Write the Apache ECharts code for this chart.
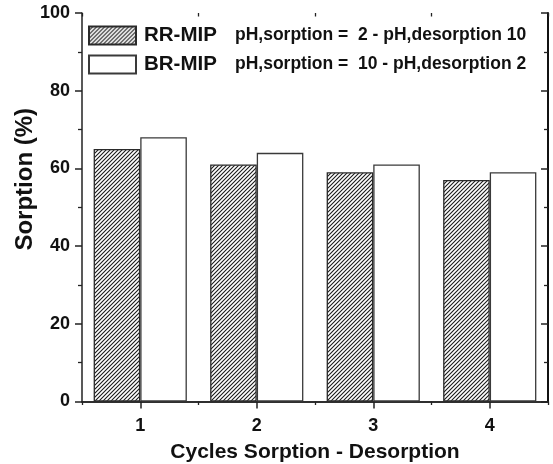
<!DOCTYPE html>
<html>
<head>
<meta charset="utf-8">
<script src="https://cdn.jsdelivr.net/npm/echarts@6/dist/echarts.min.js"></script>
<style>
  html, body { margin: 0; padding: 0; background: #fff; }
  #chart { width: 553px; height: 464px; }
</style>
</head>
<body>
<div id="chart"></div>
<script>
// Sorption over repeated sorption/desorption cycles
const cycles = ['1', '2', '3', '4'];
const rrMip = [65, 61, 59, 57];
const brMip = [68, 64, 61, 59];
const seriesNames = ['RR-MIP', 'BR-MIP'];
const conditions = ['pH,sorption =  2 - pH,desorption 10', 'pH,sorption =  10 - pH,desorption 2'];
const yMin = 0, yMax = 100, yStep = 20;

const FONT = '"Liberation Sans", Arial, Helvetica, sans-serif';
const INK = '#111';

// diagonal hatch fill for the RR-MIP bars
function hatchPattern() {
  const s = 4;
  const c = document.createElement('canvas');
  c.width = s; c.height = s;
  const g = c.getContext('2d');
  g.fillStyle = '#fff';
  g.fillRect(0, 0, s, s);
  g.strokeStyle = '#1a1a1a';
  g.lineWidth = 1.1;
  g.beginPath();
  g.moveTo(0, s); g.lineTo(s, 0);
  g.moveTo(-1, 1); g.lineTo(1, -1);
  g.moveTo(s - 1, s + 1); g.lineTo(s + 1, s - 1);
  g.stroke();
  return c;
}

const gridRect = { left: 82, right: 5, top: 13, bottom: 62.5, outerBoundsMode: 'none', containLabel: false };
const axisLine = { show: true, lineStyle: { color: '#222', width: 1.5 } };

const chart = echarts.init(document.getElementById('chart'), null, { renderer: 'canvas' });

chart.setOption({
  animation: false,
  backgroundColor: '#fff',
  textStyle: { fontFamily: FONT, color: INK },
  grid: [
    Object.assign({}, gridRect),
    Object.assign({}, gridRect)
  ],
  legend: {
    data: seriesNames,
    orient: 'vertical',
    left: 88,
    top: 25,
    padding: 0,
    itemWidth: 47,
    itemHeight: 18,
    itemGap: 8,
    icon: 'rect',
    selectedMode: false,
    formatter: function (name) {
      const i = seriesNames.indexOf(name);
      return '{a|' + name + '}{b|' + conditions[i] + '}';
    },
    textStyle: {
      fontFamily: FONT,
      color: INK,
      rich: {
        a: { fontFamily: FONT, fontSize: 20.5, lineHeight: 18, fontWeight: 'bold', color: INK, width: 91, padding: [0, 0, 0, 3] },
        b: { fontFamily: FONT, fontSize: 17.5, lineHeight: 18, fontWeight: 'bold', color: INK }
      }
    }
  },
  xAxis: [
    {
      type: 'category', gridIndex: 0, position: 'bottom', data: cycles,
      axisLine: axisLine,
      axisTick: { show: true, alignWithLabel: true, length: 7, lineStyle: { color: '#222', width: 1.5 } },
      axisLabel: { fontFamily: FONT, fontSize: 18, fontWeight: 'bold', color: INK, margin: 16 },
      splitLine: { show: false },
      name: 'Cycles Sorption - Desorption',
      nameLocation: 'middle',
      nameGap: 40,
      nameMoveOverlap: false,
      nameTextStyle: { fontFamily: FONT, fontSize: 21, fontWeight: 'bold', color: INK, verticalAlign: 'top' }
    },
    {
      type: 'category', gridIndex: 0, position: 'top', data: cycles,
      axisLine: axisLine,
      axisTick: { show: true, alignWithLabel: true, inside: true, length: 5, lineStyle: { color: '#222', width: 1.5 } },
      axisLabel: { show: false },
      splitLine: { show: false }
    },
    {
      type: 'category', gridIndex: 1, position: 'bottom', data: cycles,
      axisLine: { show: false },
      axisTick: { show: true, length: 3.5, lineStyle: { color: '#222', width: 1.3 } },
      axisLabel: { show: false },
      splitLine: { show: false }
    },
    {
      type: 'category', gridIndex: 1, position: 'top', data: cycles,
      axisLine: { show: false },
      axisTick: { show: true, inside: true, length: 3.5, lineStyle: { color: '#222', width: 1.3 } },
      axisLabel: { show: false },
      splitLine: { show: false }
    }
  ],
  yAxis: [
    {
      type: 'value', gridIndex: 0, position: 'left',
      min: yMin, max: yMax, interval: yStep,
      axisLine: axisLine,
      axisTick: { show: true, length: 7, lineStyle: { color: '#222', width: 1.5 } },
      minorTick: { show: true, splitNumber: 2, length: 4, lineStyle: { color: '#222', width: 1.3 } },
      axisLabel: { fontFamily: FONT, fontSize: 18, fontWeight: 'bold', color: INK, margin: 12 },
      splitLine: { show: false },
      minorSplitLine: { show: false },
      name: 'Sorption (%)',
      nameLocation: 'middle',
      nameGap: 45,
      nameMoveOverlap: false,
      nameTextStyle: { fontFamily: FONT, fontSize: 24, fontWeight: 'bold', color: INK, padding: [0, 0, 0, 56] }
    },
    {
      type: 'value', gridIndex: 0, position: 'right',
      min: yMin, max: yMax, interval: yStep,
      axisLine: { show: true, lineStyle: { color: '#111', width: 2 } },
      axisTick: { show: true, inside: true, length: 7, lineStyle: { color: '#222', width: 1.5 } },
      minorTick: { show: true, splitNumber: 2, length: 4, lineStyle: { color: '#222', width: 1.3 } },
      axisLabel: { show: false },
      splitLine: { show: false },
      minorSplitLine: { show: false }
    },
    {
      type: 'value', gridIndex: 1, min: yMin, max: yMax, interval: yStep,
      show: false
    }
  ],
  series: [
    {
      type: 'bar', name: seriesNames[0], data: rrMip,
      xAxisIndex: 0, yAxisIndex: 0,
      barWidth: '40%', barGap: '0%',
      itemStyle: { color: { image: hatchPattern(), repeat: 'repeat' }, borderColor: '#2a2a2a', borderWidth: 1.3 }
    },
    {
      type: 'bar', name: seriesNames[1], data: brMip,
      xAxisIndex: 0, yAxisIndex: 0,
      barWidth: '40%', barGap: '0%',
      itemStyle: { color: '#fff', borderColor: '#3a3a3a', borderWidth: 1.3 }
    }
  ]
});
</script>
</body>
</html>
